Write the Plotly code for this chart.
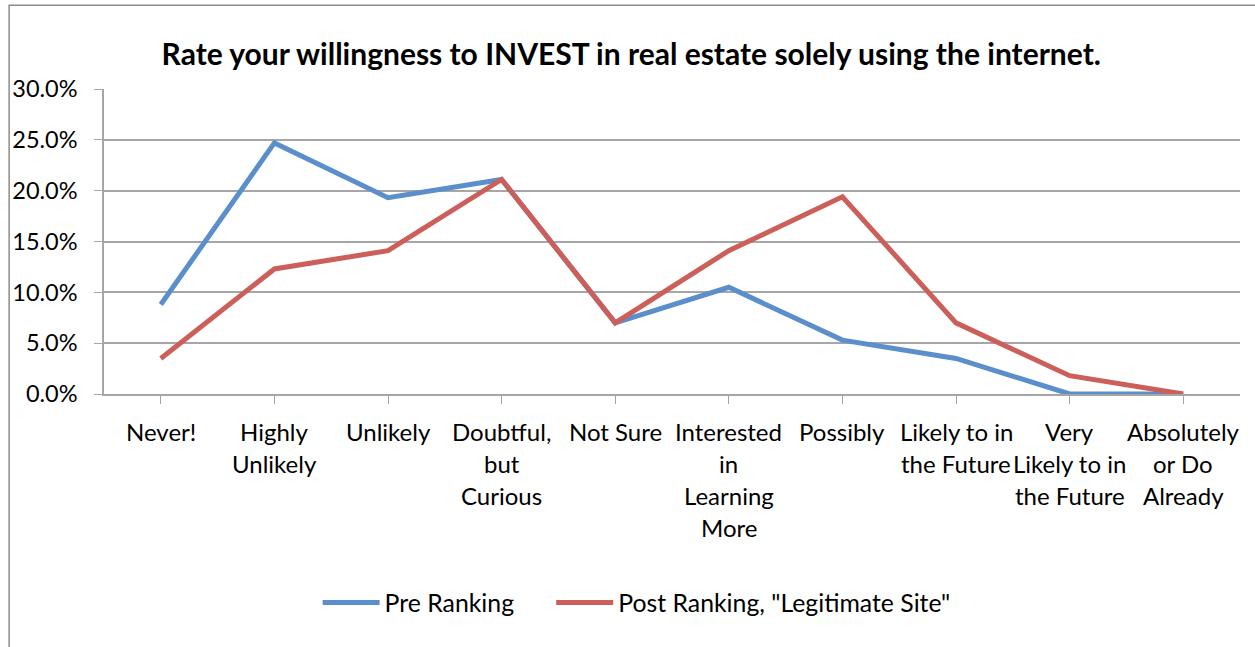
import plotly.graph_objects as go

categories = ["Never!", "Highly Unlikely", "Unlikely", "Doubtful, but Curious", "Not Sure",
              "Interested in Learning More", "Possibly", "Likely to in the Future",
              "Very Likely to in the Future", "Absolutely or Do Already"]
tick_lines = [["Never!"], ["Highly", "Unlikely"], ["Unlikely"], ["Doubtful,", "but", "Curious"],
              ["Not Sure"], ["Interested", "in", "Learning", "More"], ["Possibly"],
              ["Likely to in", "the Future"], ["Very", "Likely to in", "the Future"],
              ["Absolutely", "or Do", "Already"]]
pre = [0.088, 0.247, 0.193, 0.211, 0.070, 0.105, 0.053, 0.035, 0.0, 0.0]
post = [0.035, 0.123, 0.141, 0.211, 0.070, 0.141, 0.194, 0.070, 0.018, 0.0]
y_ticks = [0.0, 0.05, 0.10, 0.15, 0.20, 0.25, 0.30]

FONT = "Lato, 'Open Sans', sans-serif"
BLUE = "#5B8FCC"
RED = "#CD5F5A"
GRID = "#A6A6A6"

fig = go.Figure()
fig.add_trace(go.Scatter(x=list(range(len(categories))), y=pre, mode="lines",
                         name="Pre Ranking", line=dict(color=BLUE, width=5), legend="legend"))
fig.add_trace(go.Scatter(x=list(range(len(categories))), y=post, mode="lines",
                         name='Post Ranking, "Legitimate Site"', line=dict(color=RED, width=5),
                         legend="legend2"))

annotations = []
for i, lines in enumerate(tick_lines):
    for j, t in enumerate(lines):
        annotations.append(dict(x=i, xref="x", y=0, yref="paper", text=t, showarrow=False,
                                yanchor="middle", xanchor="center", yshift=-37 - 32 * j,
                                font=dict(family=FONT, size=24, color="#000000")))

legend_common = dict(orientation="h", y=-0.685, yanchor="middle", xanchor="left",
                     font=dict(family=FONT, size=24.8, color="#000000"), itemwidth=57,
                     bgcolor="rgba(0,0,0,0)")

fig.update_layout(
    width=1255, height=647,
    margin=dict(l=102, r=15, t=89, b=253),
    paper_bgcolor="white", plot_bgcolor="white",
    title=dict(text="<b>Rate your willingness to INVEST in real estate solely using the internet.</b>",
               x=0.503, xanchor="center", y=0.916, yanchor="middle",
               font=dict(family=FONT, size=30, color="#000000")),
    xaxis=dict(range=[-0.5, len(categories) - 0.5], tickmode="array",
               tickvals=list(range(len(categories))), ticktext=categories,
               showticklabels=False, tickson="boundaries", ticks="outside", ticklen=8,
               tickcolor=GRID, showline=True, linecolor=GRID, linewidth=1.5,
               showgrid=False, zeroline=False, fixedrange=True),
    yaxis=dict(range=[0, 0.30], tickmode="array", tickvals=y_ticks, tickformat=".1%",
               ticks="outside", ticklen=8, tickcolor=GRID, showline=True, linecolor=GRID,
               linewidth=1.5, showgrid=True, gridcolor=GRID, gridwidth=1.5, zeroline=False,
               tickfont=dict(family=FONT, size=23.5, color="#000000"), ticklabelstandoff=12),
    legend=dict(x=(323 - 7 - 102) / 1138, **legend_common),
    legend2=dict(x=(557 - 7 - 102) / 1138, **legend_common),
    showlegend=True,
    annotations=annotations,
    shapes=[dict(type="rect", xref="paper", yref="paper", x0=-0.0835, x1=1.05, y0=-1.2, y1=1.275,
                 line=dict(color="#8C8C8C", width=1.5), fillcolor="rgba(0,0,0,0)", layer="below")],
)

fig.write_html("out.html", config={"displayModeBar": False},
               post_script="document.body.style.margin='0px';")
